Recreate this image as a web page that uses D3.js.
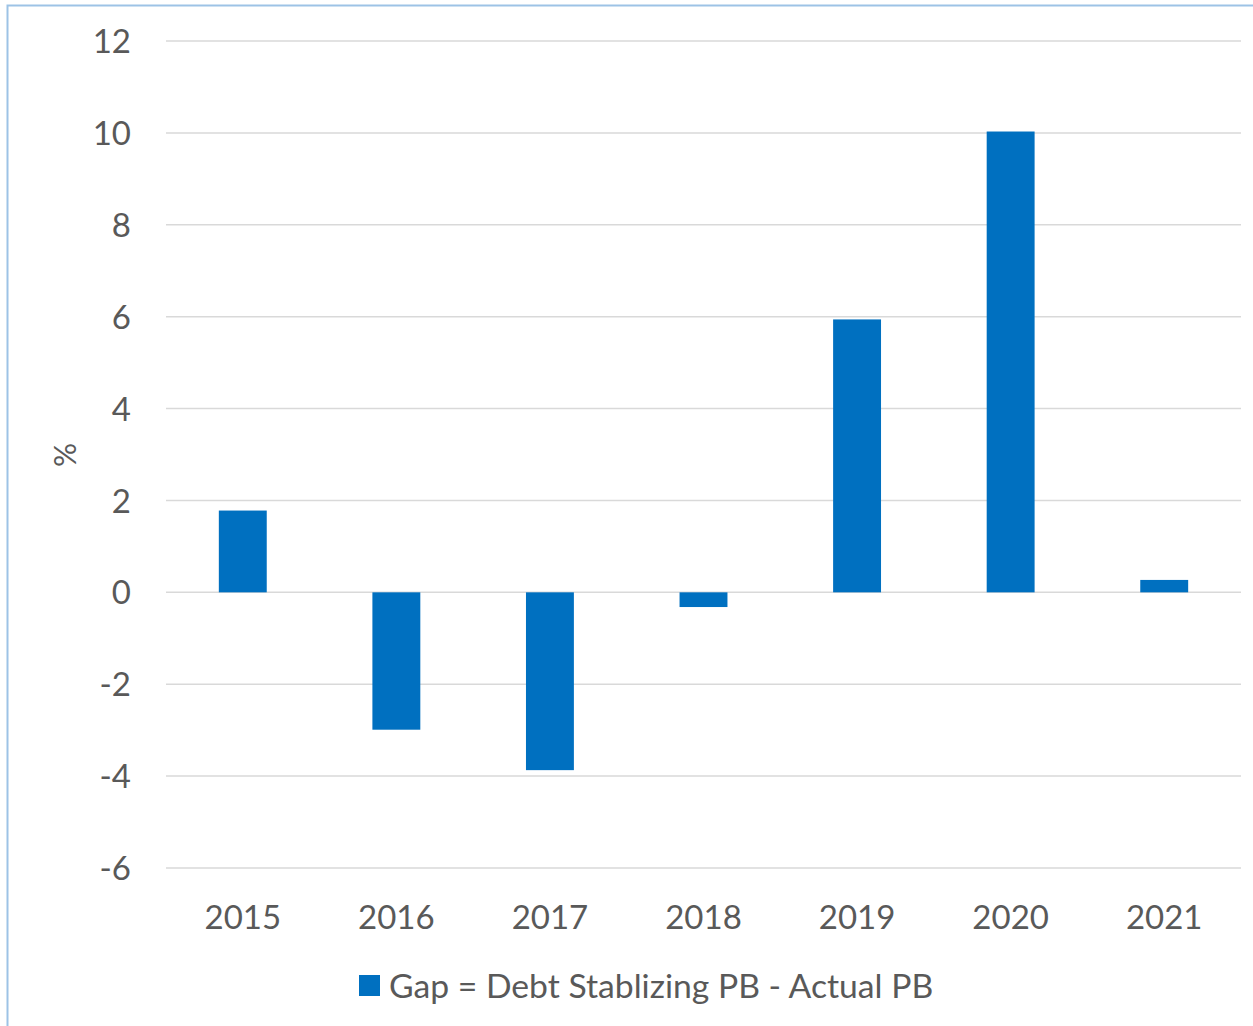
<!DOCTYPE html>
<html>
<head>
<meta charset="utf-8">
<script src="https://cdn.jsdelivr.net/npm/d3@7"></script>
<style>
  html, body { margin: 0; padding: 0; background: #fff; }
  svg { display: block; }
  text { font-family: Lato, "Open Sans", sans-serif; fill: #595959; }
</style>
</head>
<body>
<svg id="chart" width="1253" height="1026"></svg>
<script>
const categories = ["2015", "2016", "2017", "2018", "2019", "2020", "2021"];
const gapValues = [1.78, -2.99, -3.87, -0.32, 5.94, 10.03, 0.27];
const yTicks = [-6, -4, -2, 0, 2, 4, 6, 8, 10, 12];
const seriesName = "Gap = Debt Stablizing PB - Actual PB";
const yAxisTitle = "%";

const svg = d3.select("#chart");
const W = 1253, H = 1026;
const plot = { left: 166, right: 1241, top: 41, bottom: 868 };

// outer border
svg.append("rect")
  .attr("x", 7.5).attr("y", 5.5)
  .attr("width", W + 10).attr("height", H + 10)
  .attr("fill", "none").attr("stroke", "#9DC3E6").attr("stroke-width", 2);

const x = d3.scaleBand().domain(categories).range([plot.left, plot.right]).paddingInner(0.688).paddingOuter(0.344);
const y = d3.scaleLinear().domain([-6, 12]).range([plot.bottom, plot.top]);

// gridlines
svg.append("g").selectAll("line").data(yTicks).join("line")
  .attr("x1", plot.left).attr("x2", plot.right)
  .attr("y1", d => y(d)).attr("y2", d => y(d))
  .attr("stroke", "#d9d9d9").attr("stroke-width", 1.5);

// y axis labels
const yAxis = d3.axisLeft(y).tickValues(yTicks).tickFormat(d => String(d)).tickSize(0).tickPadding(0);
const gy = svg.append("g").attr("transform", "translate(131,0)").call(yAxis);
gy.select(".domain").remove();
gy.selectAll("text").style("font-size", "33px").attr("fill", "#595959")
  .style("font-family", "Lato, 'Open Sans', sans-serif").attr("dy", "0.35em");

// bars
svg.append("g").selectAll("rect").data(gapValues).join("rect")
  .attr("x", (d, i) => x(categories[i]))
  .attr("width", x.bandwidth())
  .attr("y", d => y(Math.max(0, d)))
  .attr("height", d => Math.abs(y(d) - y(0)))
  .attr("fill", "#0070C0");

// x axis labels
const xAxis = d3.axisBottom(x).tickSize(0).tickPadding(0);
const gx = svg.append("g").attr("transform", "translate(0,904)").call(xAxis);
gx.select(".domain").remove();
gx.selectAll("text").style("font-size", "33px").attr("fill", "#595959")
  .style("font-family", "Lato, 'Open Sans', sans-serif").attr("dy", "0.75em");

// y axis title
svg.append("text")
  .attr("transform", "translate(65,455) rotate(-90)")
  .attr("text-anchor", "middle").attr("dy", "0.35em")
  .style("font-size", "30px")
  .text(yAxisTitle);

// legend
const legend = svg.append("g");
legend.append("rect").attr("x", 359).attr("y", 975).attr("width", 21).attr("height", 21).attr("fill", "#0070C0");
legend.append("text").attr("x", 389).attr("y", 986).attr("dy", "0.35em")
  .style("font-size", "33.7px").text(seriesName);
</script>
</body>
</html>
